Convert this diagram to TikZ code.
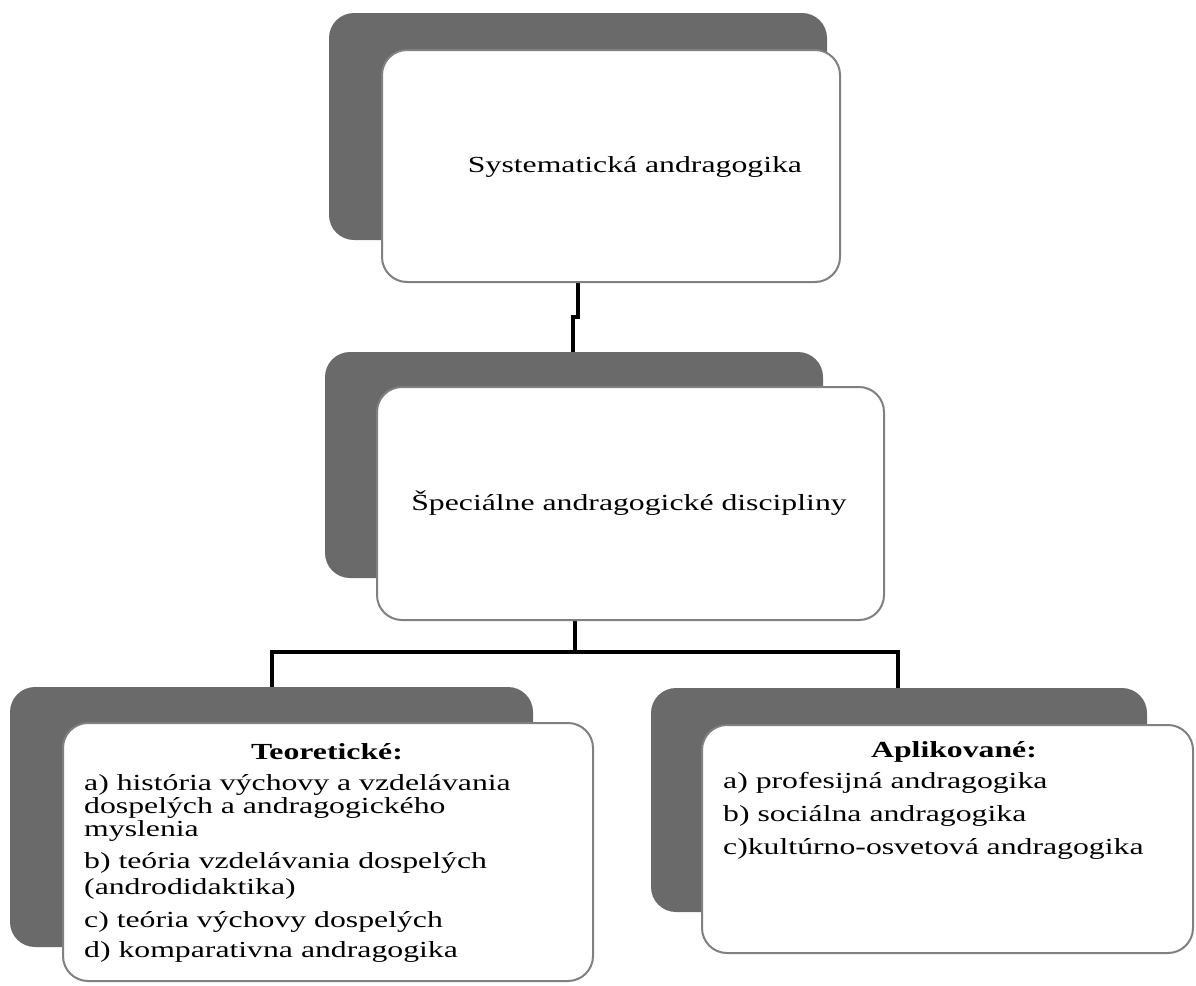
\documentclass[tikz,border=0pt]{standalone}
\usepackage{fontspec}
\setmainfont{Liberation Serif}[FakeStretch=1.38]
\pgfdeclarelayer{bg}
\pgfsetlayers{bg,main}
\definecolor{backgray}{HTML}{6A6A6A}
\definecolor{edgegray}{HTML}{808080}
\begin{document}
\begin{tikzpicture}[x=1pt,y=-1pt,
  back/.style={fill=backgray, draw=none, rounded corners=25pt, inner sep=0pt},
  front/.style={fill=white, draw=edgegray, line width=2pt, rounded corners=25pt, inner sep=0pt},
  conn/.style={line width=4.5pt, draw=black},
  txt/.style={font=\fontsize{23}{26}\selectfont, inner sep=0pt, text=black},
  hd/.style={txt, font=\fontsize{23}{26}\selectfont\bfseries}]
\useasboundingbox (0,0) rectangle (1196,985);
% top
\node[back, minimum width=498pt, minimum height=227pt] (topback) at (578,126.5) {};
\node[front, minimum width=458pt, minimum height=232pt] (top) at (611,166) {};
\node[txt] (toptext) at (635,167) {Systematická andragogika};
% middle
\node[back, minimum width=498pt, minimum height=226pt] (midback) at (574,465) {};
\node[front, minimum width=507pt, minimum height=233pt] (mid) at (630.5,503.5) {};
\node[txt] (midtext) at (629,503) {Špeciálne andragogické discipliny};
% bottom left
\node[back, minimum width=523pt, minimum height=260pt] (blback) at (271.5,817) {};
\node[front, minimum width=530pt, minimum height=258pt] (bl) at (328,852) {};
\node[hd, anchor=base] (blh) at (327,759) {Teoretické:};
\node[txt, anchor=base west] (bla1) at (84,790) {a) história výchovy a vzdelávania};
\node[txt, anchor=base west] (bla2) at (84,813) {dospelých a andragogického};
\node[txt, anchor=base west] (bla3) at (84,836) {myslenia};
\node[txt, anchor=base west] (blb1) at (84,868) {b) teória vzdelávania dospelých};
\node[txt, anchor=base west] (blb2) at (84,894) {(androdidaktika)};
\node[txt, anchor=base west] (blc) at (84,927) {c) teória výchovy dospelých};
\node[txt, anchor=base west] (bld) at (84,957) {d) komparativna andragogika};
% bottom right
\node[back, minimum width=496pt, minimum height=224pt] (brback) at (899,800) {};
\node[front, minimum width=491pt, minimum height=228pt] (br) at (947.5,839) {};
\node[hd, anchor=base] (brh) at (954,757) {Aplikované:};
\node[txt, anchor=base west] (bra) at (723,788) {a) profesijná andragogika};
\node[txt, anchor=base west] (brb) at (723,821) {b) sociálna andragogika};
\node[txt, anchor=base west] (brc) at (723,854) {c)kultúrno-osvetová andragogika};
% connectors
\begin{pgfonlayer}{bg}
\draw[conn] ([xshift=-33pt]top.south) -- ++(0,34) -- ++(-5,0) -- ([xshift=-57.5pt]mid.north);
\draw[conn] ([xshift=-55.5pt]mid.south) -- ++(0,31) coordinate (j);
\draw[conn] ([xshift=-56pt]bl.north) |- (j) -| ([xshift=-49.5pt]br.north);
\end{pgfonlayer}
\end{tikzpicture}
\end{document}
